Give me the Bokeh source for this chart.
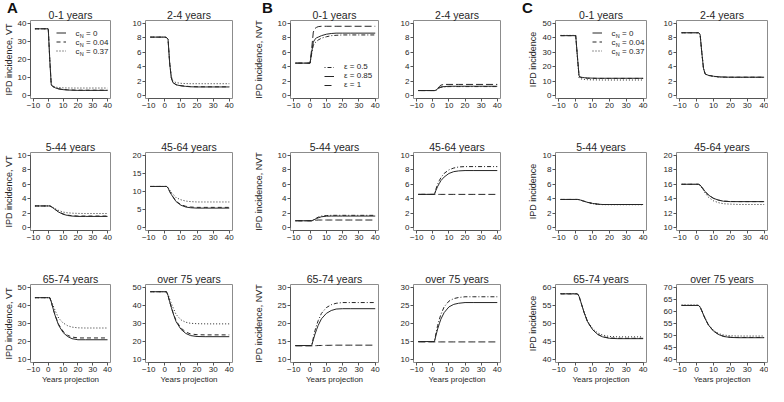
from bokeh.plotting import figure
from bokeh.layouts import row, column
from bokeh.models import FixedTicker, Range1d, Legend, LegendItem, Label, Div
from bokeh.embed import file_html
from bokeh.resources import INLINE

# ---------------- data ----------------
YEARS = [-9, 0, 1, 2, 3, 4, 5, 7, 10, 13, 16, 20, 25, 40]
X_TICKS = [-10, 0, 10, 20, 30, 40]
AGE_GROUPS = ["0-1 years", "2-4 years", "5-44 years", "45-64 years", "65-74 years", "over 75 years"]
CN_LABELS = ["0", "0.04", "0.37"]
EPS_LABELS = ["\u03b5 = 0.5", "\u03b5 = 0.85", "\u03b5 = 1"]
PANEL_LETTERS = ["A", "B", "C"]

# A: IPD incidence, VT  (c_N = 0, 0.04, 0.37)
vt_01_c0 = [37, 37, 20, 6.0, 5.0, 4.6, 4.2, 3.7, 3.3, 3.1, 3.0, 2.9, 2.9, 2.9]
vt_01_c004 = [37, 37, 20, 6.1, 5.1, 4.7, 4.3, 3.8, 3.4, 3.2, 3.1, 3.0, 3.0, 3.0]
vt_01_c037 = [37, 37, 20.5, 6.4, 5.4, 5.0, 4.7, 4.45, 4.3, 4.25, 4.2, 4.2, 4.2, 4.2]
vt_24_c0 = [8.1, 8.1, 8.05, 7.8, 4.5, 2.5, 1.8, 1.5, 1.35, 1.28, 1.22, 1.2, 1.2, 1.2]
vt_24_c004 = [8.1, 8.1, 8.05, 7.8, 4.5, 2.5, 1.82, 1.52, 1.38, 1.3, 1.25, 1.23, 1.22, 1.22]
vt_24_c037 = [8.1, 8.1, 8.05, 7.8, 4.6, 2.7, 2.0, 1.8, 1.7, 1.67, 1.65, 1.65, 1.65, 1.65]
vt_544_c0 = [3.0, 3.0, 3.0, 2.9, 2.75, 2.6, 2.45, 2.15, 1.85, 1.68, 1.6, 1.55, 1.55, 1.55]
vt_544_c004 = [3.0, 3.0, 3.0, 2.9, 2.76, 2.61, 2.47, 2.18, 1.9, 1.73, 1.65, 1.6, 1.6, 1.6]
vt_544_c037 = [3.0, 3.0, 3.0, 2.92, 2.82, 2.72, 2.6, 2.38, 2.15, 2.05, 2.0, 1.97, 1.95, 1.95]
vt_4564_c0 = [11.4, 11.4, 11.4, 11.0, 10.0, 9.2, 8.5, 7.2, 6.2, 5.7, 5.5, 5.4, 5.4, 5.4]
vt_4564_c004 = [11.4, 11.4, 11.4, 11.0, 10.0, 9.3, 8.6, 7.3, 6.35, 5.9, 5.7, 5.6, 5.6, 5.6]
vt_4564_c037 = [11.4, 11.4, 11.4, 11.1, 10.4, 9.8, 9.3, 8.3, 7.7, 7.35, 7.2, 7.1, 7.1, 7.1]
vt_6574_c0 = [44.3, 44.3, 44.3, 42.0, 39.0, 36.0, 33.5, 29.0, 25.0, 22.8, 21.6, 21.0, 21.0, 21.0]
vt_6574_c004 = [44.3, 44.3, 44.3, 42.0, 39.0, 36.2, 33.8, 29.5, 25.7, 23.5, 22.5, 22.0, 22.0, 22.0]
vt_6574_c037 = [44.3, 44.3, 44.3, 42.5, 40.5, 38.5, 36.5, 33.0, 30.3, 28.8, 28.0, 27.6, 27.5, 27.5]
vt_75_c0 = [47.6, 47.6, 47.6, 45.5, 42.0, 39.0, 36.0, 31.0, 26.8, 24.5, 23.3, 22.8, 22.7, 22.7]
vt_75_c004 = [47.6, 47.6, 47.6, 45.5, 42.0, 39.2, 36.3, 31.5, 27.5, 25.3, 24.2, 23.8, 23.7, 23.7]
vt_75_c037 = [47.6, 47.6, 47.6, 46.0, 43.5, 41.2, 39.0, 35.0, 32.0, 30.7, 30.1, 29.9, 29.8, 29.8]

# B: IPD incidence, NVT  (epsilon = 0.5, 0.85, 1)
nvt_01_e05 = [4.5, 4.5, 5.8, 7.0, 7.3, 7.5, 7.7, 7.95, 8.15, 8.3, 8.35, 8.4, 8.4, 8.4]
nvt_01_e085 = [4.5, 4.5, 6.0, 7.4, 7.8, 8.0, 8.1, 8.3, 8.5, 8.6, 8.65, 8.65, 8.65, 8.65]
nvt_01_e1 = [4.5, 4.5, 6.5, 8.8, 9.3, 9.45, 9.55, 9.6, 9.6, 9.6, 9.6, 9.6, 9.6, 9.6]
nvt_24_e05 = [0.7, 0.7, 0.7, 0.75, 0.9, 1.05, 1.15, 1.2, 1.25, 1.25, 1.25, 1.25, 1.25, 1.25]
nvt_24_e085 = [0.7, 0.7, 0.7, 0.75, 0.95, 1.1, 1.2, 1.25, 1.3, 1.3, 1.3, 1.3, 1.3, 1.3]
nvt_24_e1 = [0.7, 0.7, 0.7, 0.75, 1.0, 1.25, 1.45, 1.55, 1.55, 1.55, 1.55, 1.55, 1.55, 1.55]
nvt_544_e05 = [0.95, 0.95, 0.95, 1.05, 1.2, 1.33, 1.45, 1.6, 1.67, 1.7, 1.7, 1.7, 1.7, 1.7]
nvt_544_e085 = [0.95, 0.95, 0.95, 1.05, 1.15, 1.25, 1.35, 1.5, 1.58, 1.6, 1.6, 1.6, 1.6, 1.6]
nvt_544_e1 = [0.95, 0.95, 0.95, 0.97, 1.0, 1.03, 1.05, 1.05, 1.05, 1.05, 1.05, 1.05, 1.05, 1.05]
nvt_4564_e05 = [4.6, 4.6, 4.6, 5.4, 6.0, 6.5, 6.9, 7.5, 8.0, 8.25, 8.4, 8.45, 8.45, 8.45]
nvt_4564_e085 = [4.6, 4.6, 4.6, 5.2, 5.7, 6.1, 6.5, 7.0, 7.5, 7.75, 7.85, 7.9, 7.9, 7.9]
nvt_4564_e1 = [4.6, 4.6, 4.6, 4.6, 4.6, 4.6, 4.6, 4.6, 4.6, 4.6, 4.6, 4.6, 4.6, 4.6]
nvt_6574_e05 = [13.9, 13.9, 13.9, 16.0, 18.0, 19.5, 20.8, 22.8, 24.4, 25.2, 25.6, 25.8, 25.8, 25.8]
nvt_6574_e085 = [13.9, 13.9, 13.9, 15.5, 17.0, 18.3, 19.5, 21.3, 22.8, 23.6, 24.0, 24.1, 24.1, 24.1]
nvt_6574_e1 = [13.8, 13.8, 13.8, 13.82, 13.85, 13.87, 13.9, 13.92, 13.95, 13.97, 14.0, 14.0, 14.0, 14.0]
nvt_75_e05 = [15.0, 15.0, 15.0, 17.4, 19.5, 21.1, 22.5, 24.6, 26.2, 26.9, 27.2, 27.4, 27.4, 27.4]
nvt_75_e085 = [15.0, 15.0, 15.0, 16.8, 18.5, 19.9, 21.2, 23.0, 24.6, 25.3, 25.6, 25.8, 25.8, 25.8]
nvt_75_e1 = [14.9, 14.9, 14.9, 14.9, 14.9, 14.9, 14.9, 14.9, 14.9, 14.9, 14.9, 14.9, 14.9, 14.9]

# C: IPD incidence  (c_N = 0, 0.04, 0.37)
ipd_01_c0 = [41.5, 41.5, 27.0, 13.5, 12.8, 12.6, 12.4, 12.2, 12.1, 12.0, 12.0, 12.0, 12.0, 12.0]
ipd_01_c004 = [41.5, 41.5, 27.0, 13.3, 12.6, 12.4, 12.2, 12.0, 11.95, 11.9, 11.9, 11.9, 11.9, 11.9]
ipd_01_c037 = [41.7, 41.7, 26.5, 12.2, 11.6, 11.4, 11.2, 11.0, 10.9, 10.85, 10.8, 10.8, 10.8, 10.8]
ipd_24_c0 = [8.7, 8.7, 8.7, 8.5, 6.0, 3.8, 3.0, 2.8, 2.68, 2.6, 2.57, 2.55, 2.55, 2.55]
ipd_24_c004 = [8.7, 8.7, 8.7, 8.5, 6.0, 3.8, 3.0, 2.8, 2.68, 2.6, 2.57, 2.55, 2.55, 2.55]
ipd_24_c037 = [8.7, 8.7, 8.7, 8.5, 6.0, 3.8, 2.98, 2.78, 2.65, 2.57, 2.53, 2.52, 2.52, 2.52]
ipd_544_c0 = [3.9, 3.9, 3.9, 3.87, 3.8, 3.72, 3.65, 3.5, 3.35, 3.25, 3.2, 3.2, 3.2, 3.2]
ipd_544_c004 = [3.9, 3.9, 3.9, 3.87, 3.8, 3.72, 3.65, 3.5, 3.35, 3.25, 3.2, 3.2, 3.2, 3.2]
ipd_544_c037 = [3.9, 3.9, 3.9, 3.87, 3.8, 3.72, 3.64, 3.48, 3.32, 3.22, 3.18, 3.17, 3.17, 3.17]
ipd_4564_c0 = [16.0, 16.0, 16.0, 15.9, 15.6, 15.3, 15.0, 14.5, 14.05, 13.8, 13.65, 13.6, 13.6, 13.6]
ipd_4564_c004 = [16.0, 16.0, 16.0, 15.9, 15.6, 15.3, 15.0, 14.5, 14.05, 13.8, 13.67, 13.62, 13.6, 13.6]
ipd_4564_c037 = [16.0, 16.0, 16.0, 15.85, 15.5, 15.15, 14.8, 14.2, 13.7, 13.45, 13.3, 13.25, 13.2, 13.2]
ipd_6574_c0 = [58.2, 58.2, 58.2, 57.5, 56.0, 54.5, 53.0, 50.5, 48.3, 47.0, 46.3, 45.9, 45.8, 45.8]
ipd_6574_c004 = [58.2, 58.2, 58.2, 57.5, 56.0, 54.5, 53.0, 50.5, 48.3, 47.0, 46.35, 46.0, 45.9, 45.9]
ipd_6574_c037 = [58.3, 58.3, 58.3, 57.6, 56.1, 54.6, 53.1, 50.7, 48.6, 47.4, 46.8, 46.4, 46.3, 46.3]
ipd_75_c0 = [62.5, 62.5, 62.5, 61.8, 60.3, 58.6, 57.0, 54.3, 51.8, 50.4, 49.6, 49.2, 49.1, 49.1]
ipd_75_c004 = [62.5, 62.5, 62.5, 61.8, 60.3, 58.6, 57.0, 54.3, 51.9, 50.5, 49.7, 49.3, 49.2, 49.2]
ipd_75_c037 = [62.7, 62.7, 62.7, 62.0, 60.5, 58.8, 57.2, 54.6, 52.1, 50.8, 50.2, 49.9, 49.8, 49.8]

# y tick values per panel
A_YTICKS = [[0, 10, 20, 30, 40], [0, 2, 4, 6, 8, 10], [0, 2, 4, 6, 8, 10],
            [0, 5, 10, 15, 20], [10, 20, 30, 40, 50], [10, 20, 30, 40, 50]]
B_YTICKS = [[0, 2, 4, 6, 8, 10], [0, 2, 4, 6, 8, 10], [0, 2, 4, 6, 8, 10],
            [0, 2, 4, 6, 8, 10], [10, 15, 20, 25, 30], [10, 15, 20, 25, 30]]
C_YTICKS = [[0, 10, 20, 30, 40, 50], [0, 2, 4, 6, 8, 10], [0, 2, 4, 6, 8, 10],
            [10, 12, 14, 16, 18, 20], [40, 45, 50, 55, 60], [40, 45, 50, 55, 60, 65, 70]]

A_SERIES = [(vt_01_c0, vt_01_c004, vt_01_c037), (vt_24_c0, vt_24_c004, vt_24_c037),
            (vt_544_c0, vt_544_c004, vt_544_c037), (vt_4564_c0, vt_4564_c004, vt_4564_c037),
            (vt_6574_c0, vt_6574_c004, vt_6574_c037), (vt_75_c0, vt_75_c004, vt_75_c037)]
B_SERIES = [(nvt_01_e05, nvt_01_e085, nvt_01_e1), (nvt_24_e05, nvt_24_e085, nvt_24_e1),
            (nvt_544_e05, nvt_544_e085, nvt_544_e1), (nvt_4564_e05, nvt_4564_e085, nvt_4564_e1),
            (nvt_6574_e05, nvt_6574_e085, nvt_6574_e1), (nvt_75_e05, nvt_75_e085, nvt_75_e1)]
C_SERIES = [(ipd_01_c0, ipd_01_c004, ipd_01_c037), (ipd_24_c0, ipd_24_c004, ipd_24_c037),
            (ipd_544_c0, ipd_544_c004, ipd_544_c037), (ipd_4564_c0, ipd_4564_c004, ipd_4564_c037),
            (ipd_6574_c0, ipd_6574_c004, ipd_6574_c037), (ipd_75_c0, ipd_75_c004, ipd_75_c037)]

# ---------------- styling / layout ----------------
FONT = "Liberation Sans"
TXT = "#262626"
AX = "#555555"
LINE = "#262626"
CN_DASH = ["solid", "4 3", "1 2"]
EPS_DASH = ["1 2 4 2", "solid", "7 3"]
NB = "\u00a0"

# (min_border_left, frame width, min_border_right) for the 6 columns
COLS = [(25, 85, 10), (25, 87, 10), (48, 88, 10), (25, 87, 10), (45, 91, 10), (20, 91, 1)]
# (min_border_top, frame height, min_border_bottom) for the 3 rows
ROWS = [(20, 78, 26), (28, 78, 28), (26, 78, 24)]
# panel letter positions (px, relative to top-left of the layout)
LETTER_POS = [(2, -6), (257, -6), (517, -6)]


def make_panel(title, series, dashes, yticks, col_spec, row_spec, ylabel=None,
               ylabel_standoff=1, xlabel=None):
    bl, fw, br = col_spec
    bt, fh, bb = row_spec
    y0, y1 = yticks[0], yticks[-1]
    pad = 0.04 * (y1 - y0)
    p = figure(width=bl + fw + br, height=bt + fh + bb, output_backend="svg",
               toolbar_location=None, tools="",
               min_border_left=bl, min_border_right=br,
               min_border_top=bt, min_border_bottom=bb,
               x_range=Range1d(-12, 42), y_range=Range1d(y0 - pad, y1 + pad))
    p.title.text = title
    p.title.align = "center"
    p.title.text_font = FONT
    p.title.text_font_size = "10.5px"
    p.title.text_font_style = "normal"
    p.title.text_color = TXT
    p.title.standoff = 0
    p.xgrid.visible = False
    p.ygrid.visible = False
    p.outline_line_color = "#8c8c8c"
    p.outline_line_width = 1
    p.background_fill_color = "white"
    p.border_fill_alpha = 0

    p.xaxis.ticker = FixedTicker(ticks=X_TICKS)
    p.yaxis.ticker = FixedTicker(ticks=yticks)
    p.xaxis.bounds = (X_TICKS[0], X_TICKS[-1])
    p.yaxis.bounds = (y0, y1)
    for ax in (p.xaxis[0], p.yaxis[0]):
        ax.axis_line_color = AX
        ax.major_tick_line_color = AX
        ax.major_tick_out = 3
        ax.major_tick_in = 0
        ax.minor_tick_line_color = None
        ax.major_label_text_font = FONT
        ax.major_label_text_font_size = "8px"
        ax.major_label_text_color = TXT
        ax.major_label_standoff = 1
        ax.axis_label_text_font = FONT
        ax.axis_label_text_font_style = "normal"
        ax.axis_label_text_color = TXT
    p.yaxis.major_label_orientation = "horizontal"
    if ylabel:
        p.yaxis.axis_label = ylabel
        p.yaxis.axis_label_text_font_size = "9px"
        p.yaxis.axis_label_standoff = ylabel_standoff
    if xlabel:
        p.xaxis.axis_label = xlabel
        p.xaxis.axis_label_text_font_size = "8px"
        p.xaxis.axis_label_standoff = 0

    renderers = []
    for ys, dash in zip(series, dashes):
        r = p.line(YEARS, ys, line_color=LINE, line_width=1, line_dash=dash)
        renderers.append(r)
    return p, renderers


def add_legend(p, renderers, labels, vx, vy, row_h):
    items = [LegendItem(label=lab, renderers=[r]) for lab, r in zip(labels, renderers)]
    leg = Legend(items=items, location=(vx, vy), orientation="vertical",
                 glyph_width=10, glyph_height=row_h, label_height=row_h,
                 label_standoff=10, spacing=0, padding=0, margin=0,
                 label_text_font=FONT, label_text_font_size="8px",
                 label_text_color=TXT, border_line_alpha=0,
                 background_fill_alpha=0, inactive_fill_alpha=0)
    p.add_layout(leg)


def add_cn_legend_text(p, vx, vy, row_h, values, gap=10):
    # legend texts "c_N = value" drawn as labels next to the legend glyphs
    n = len(values)
    for k, v in enumerate(values):
        yc = vy + n * row_h - row_h / 2 - k * row_h
        x0 = vx + 10 + gap
        p.add_layout(Label(x=x0, y=yc, x_units="screen", y_units="screen",
                           text="c", text_font=FONT,
                           text_font_size="8px", text_color=TXT,
                           text_baseline="middle", text_align="left"))
        p.add_layout(Label(x=x0 + 4.2, y=yc - 2.5, x_units="screen",
                           y_units="screen", text="N", text_font=FONT,
                           text_font_size="5.5px", text_color=TXT,
                           text_baseline="middle", text_align="left"))
        p.add_layout(Label(x=x0 + 10.5, y=yc, x_units="screen", y_units="screen",
                           text="= " + v, text_font=FONT,
                           text_font_size="8px", text_color=TXT,
                           text_baseline="middle", text_align="left"))


groups = [
    (A_SERIES, CN_DASH, A_YTICKS, "IPD incidence, VT", 1),
    (B_SERIES, EPS_DASH, B_YTICKS, "IPD incidence, NVT", 11),
    (C_SERIES, CN_DASH, C_YTICKS, "IPD incidence", 2),
]

rows = []
for r in range(3):
    figs = []
    for g, (ser, dashes, yt, ylab, ystand) in enumerate(groups):
        for c in range(2):
            idx = 2 * r + c
            col_spec = COLS[2 * g + c]
            row_spec = ROWS[r]
            p, rend = make_panel(AGE_GROUPS[idx], ser[idx], dashes, yt[idx], col_spec, row_spec,
                                 ylabel=ylab if c == 0 else None, ylabel_standoff=ystand,
                                 xlabel="Years projection" if r == 2 else None)
            fh = row_spec[1]
            if r == 0 and c == 0:
                if g == 1:
                    add_legend(p, rend, EPS_LABELS, 34, 9, 8)
                else:
                    vx = 26 if g == 0 else 37
                    add_legend(p, rend, [NB, NB * 2, NB * 3], vx, fh - 35, 9)
                    add_cn_legend_text(p, vx, fh - 35, 9, CN_LABELS, gap=9)
            figs.append(p)
    rows.append(row(*figs, spacing=0))

letter_html = "".join(
    '<div style="position:absolute;left:%dpx;top:%dpx;font-family:\'Liberation Sans\';'
    'font-size:15px;font-weight:bold;color:#111111;line-height:normal;">%s</div>' % (x, y, t)
    for (x, y), t in zip(LETTER_POS, PANEL_LETTERS))
letters = Div(text=letter_html, width=768, height=0,
              styles={"position": "absolute", "left": "0px", "top": "0px",
                      "z-index": "10", "overflow": "visible"})

layout = column(letters, *rows, spacing=0)

with open("out.html", "w") as f:
    f.write(file_html(layout, INLINE))
